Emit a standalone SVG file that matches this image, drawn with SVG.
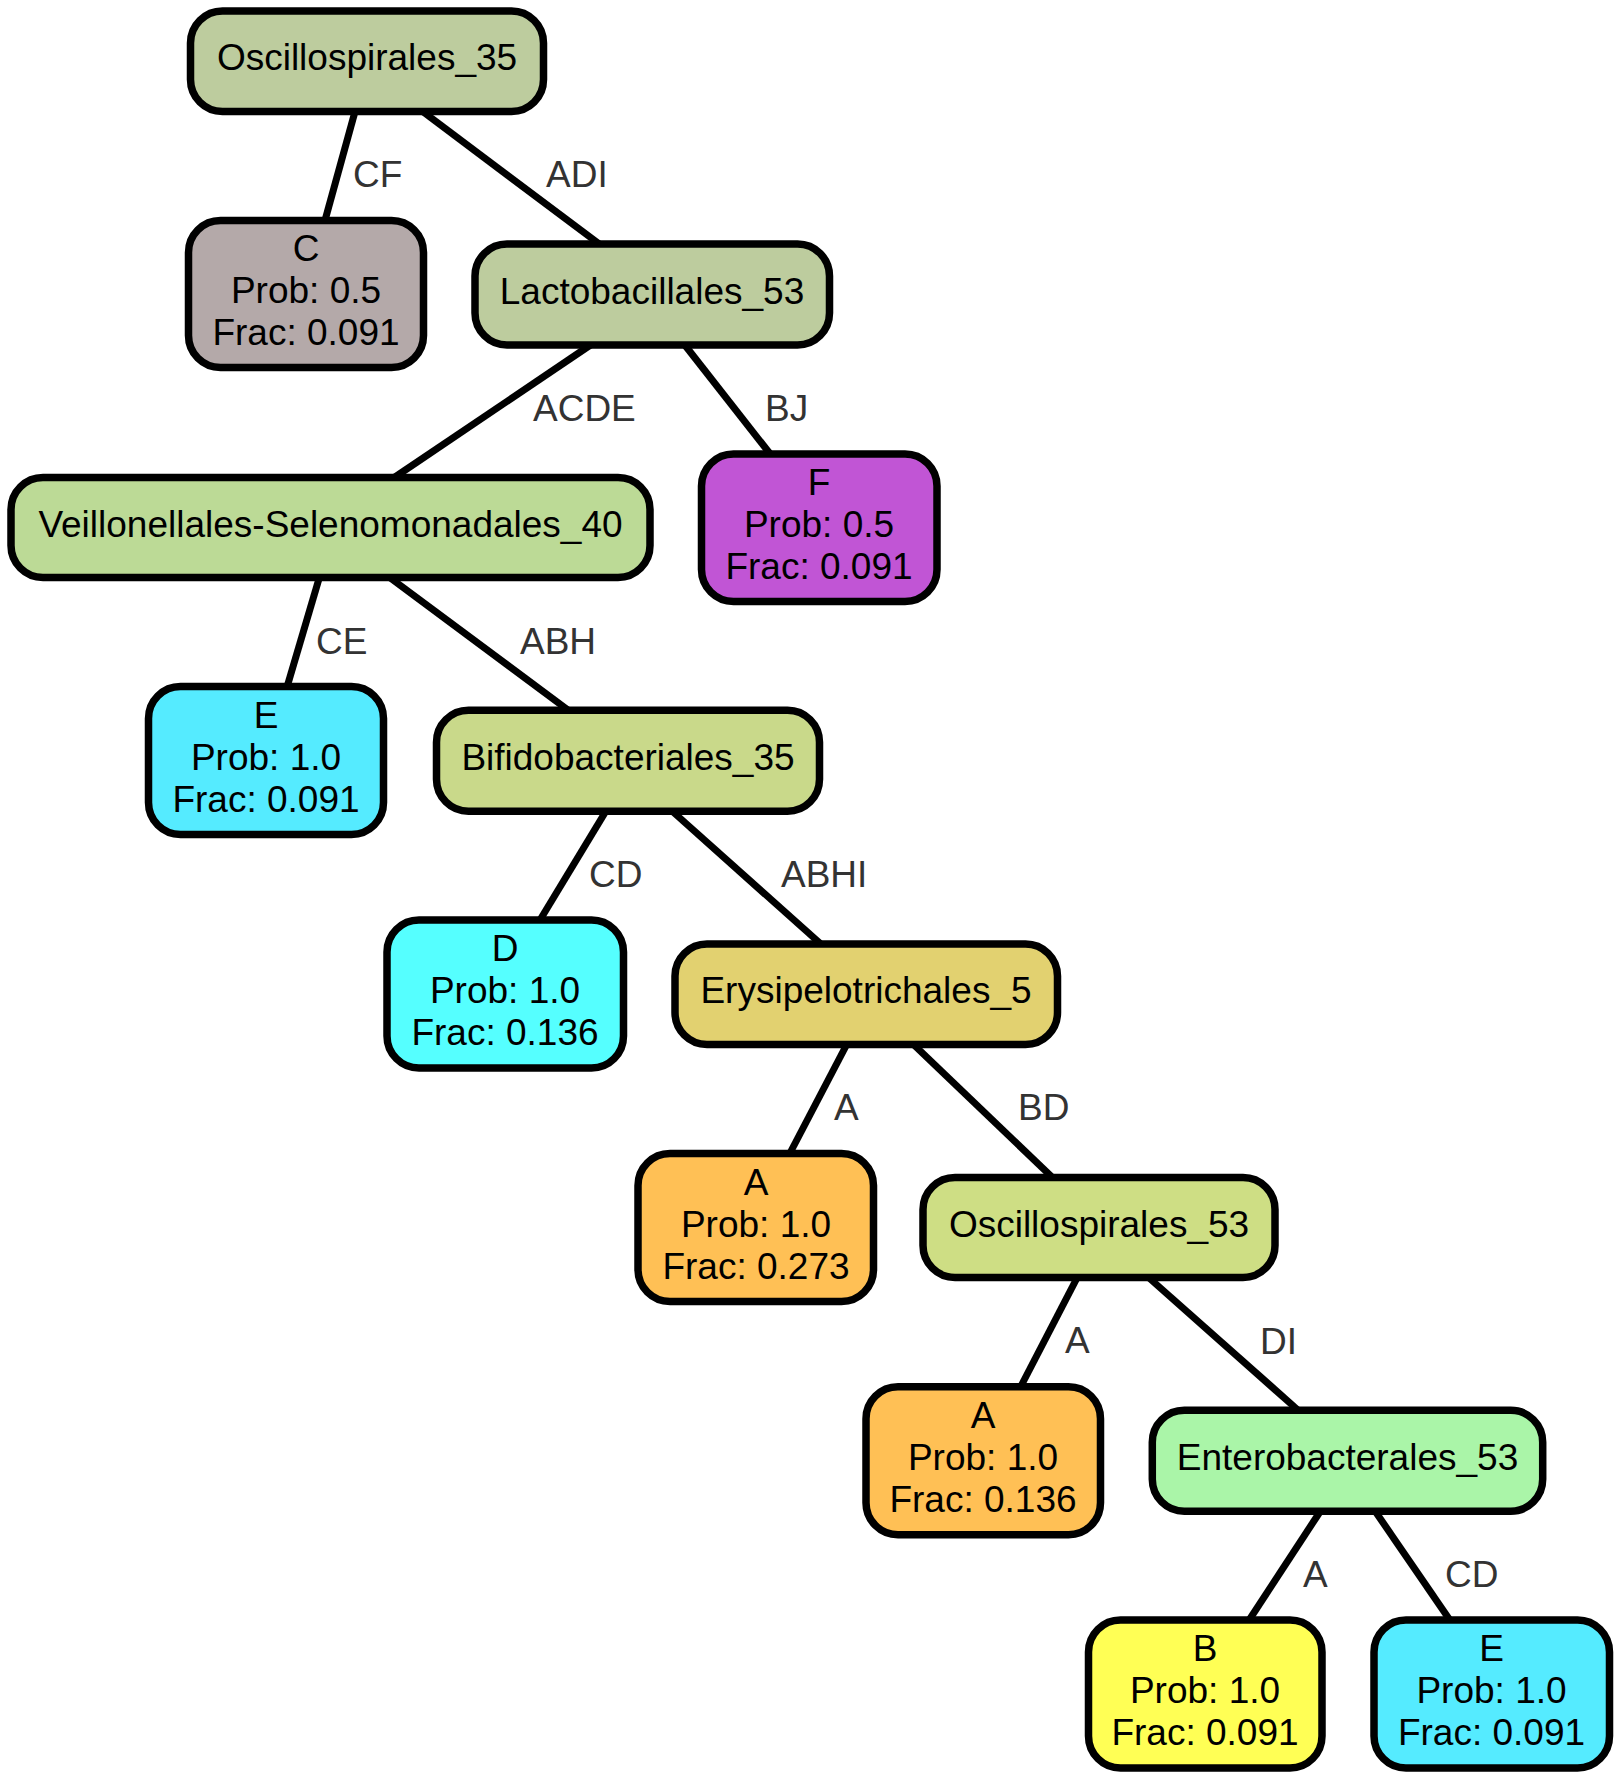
<svg xmlns="http://www.w3.org/2000/svg" width="1621" height="1779" viewBox="0 0 1621 1779">
<style>
.n rect{stroke:#000;stroke-width:7.5}
.n text{font-family:"Liberation Sans",Arial,Helvetica,sans-serif;font-size:37px;fill:#000;text-anchor:middle}
#edges line{stroke:#000;stroke-width:7}
#edges text{font-family:"Liberation Sans",Arial,Helvetica,sans-serif;font-size:37px;fill:#333}
</style>
<rect width="1621" height="1779" fill="#fff"/>
<g id="edges">
<line x1="356" y1="108" x2="324" y2="224"/>
<line x1="422" y1="111" x2="602" y2="246"/>
<line x1="592" y1="344" x2="392" y2="479"/>
<line x1="684" y1="344" x2="771" y2="455"/>
<line x1="319.5" y1="577" x2="287" y2="687"/>
<line x1="389" y1="577" x2="568" y2="710"/>
<line x1="606" y1="811" x2="540" y2="920"/>
<line x1="672" y1="811" x2="822" y2="945"/>
<line x1="847" y1="1044" x2="789.5" y2="1154"/>
<line x1="913" y1="1044" x2="1053" y2="1178"/>
<line x1="1077.5" y1="1277" x2="1020" y2="1388"/>
<line x1="1148" y1="1277" x2="1299" y2="1411"/>
<line x1="1320.5" y1="1511" x2="1248.5" y2="1621"/>
<line x1="1375" y1="1511" x2="1450.5" y2="1621"/>
<text x="353" y="187">CF</text>
<text x="546" y="187">ADI</text>
<text x="533" y="421">ACDE</text>
<text x="765" y="421">BJ</text>
<text x="316" y="654">CE</text>
<text x="520" y="654">ABH</text>
<text x="589" y="887">CD</text>
<text x="781" y="887">ABHI</text>
<text x="834" y="1120">A</text>
<text x="1018" y="1120">BD</text>
<text x="1065" y="1353">A</text>
<text x="1260" y="1354">DI</text>
<text x="1303" y="1587">A</text>
<text x="1445" y="1587">CD</text>
</g>
<g id="oscillospirales_35" class="n">
<rect x="190.5" y="11" width="353" height="100.5" rx="32" fill="#BDCC9E"/>
<text x="367" y="70">Oscillospirales_35</text>
</g>
<g id="leaf_c" class="n">
<rect x="188.5" y="220.5" width="235" height="147" rx="32" fill="#B4A9A9"/>
<text x="306" y="261">C</text>
<text x="306" y="303">Prob: 0.5</text>
<text x="306" y="345">Frac: 0.091</text>
</g>
<g id="lactobacillales_53" class="n">
<rect x="475" y="244" width="354.5" height="101" rx="32" fill="#BDCC9E"/>
<text x="652" y="303.5">Lactobacillales_53</text>
</g>
<g id="veillonellales_selenomonadales_40" class="n">
<rect x="11" y="477.5" width="639" height="100" rx="32" fill="#BCDA96"/>
<text x="330.5" y="537">Veillonellales-Selenomonadales_40</text>
</g>
<g id="leaf_f" class="n">
<rect x="701.5" y="454" width="235.5" height="147.5" rx="32" fill="#C155D5"/>
<text x="819" y="495">F</text>
<text x="819" y="537">Prob: 0.5</text>
<text x="819" y="579">Frac: 0.091</text>
</g>
<g id="leaf_e1" class="n">
<rect x="148.5" y="686.5" width="235" height="148" rx="32" fill="#55EBFF"/>
<text x="266" y="728">E</text>
<text x="266" y="770">Prob: 1.0</text>
<text x="266" y="812">Frac: 0.091</text>
</g>
<g id="bifidobacteriales_35" class="n">
<rect x="436.5" y="710.3" width="383" height="101" rx="32" fill="#C9D98A"/>
<text x="628" y="770">Bifidobacteriales_35</text>
</g>
<g id="leaf_d" class="n">
<rect x="387" y="920" width="236.5" height="148" rx="32" fill="#55FFFF"/>
<text x="505" y="961">D</text>
<text x="505" y="1003">Prob: 1.0</text>
<text x="505" y="1045">Frac: 0.136</text>
</g>
<g id="erysipelotrichales_5" class="n">
<rect x="675" y="944" width="382.5" height="100.5" rx="32" fill="#E2D170"/>
<text x="866" y="1003">Erysipelotrichales_5</text>
</g>
<g id="leaf_a1" class="n">
<rect x="638" y="1153.5" width="235.5" height="148" rx="32" fill="#FFC055"/>
<text x="756" y="1194.5">A</text>
<text x="756" y="1236.5">Prob: 1.0</text>
<text x="756" y="1278.5">Frac: 0.273</text>
</g>
<g id="oscillospirales_53" class="n">
<rect x="923" y="1177.5" width="352" height="100" rx="32" fill="#CEDE84"/>
<text x="1099" y="1236.5">Oscillospirales_53</text>
</g>
<g id="leaf_a2" class="n">
<rect x="866" y="1386.8" width="234.5" height="148" rx="32" fill="#FFC055"/>
<text x="983" y="1428">A</text>
<text x="983" y="1470">Prob: 1.0</text>
<text x="983" y="1512">Frac: 0.136</text>
</g>
<g id="enterobacterales_53" class="n">
<rect x="1152.3" y="1410.2" width="390.4" height="101" rx="32" fill="#AAF5A8"/>
<text x="1347.5" y="1470">Enterobacterales_53</text>
</g>
<g id="leaf_b" class="n">
<rect x="1088.5" y="1620" width="233.5" height="148" rx="32" fill="#FFFF55"/>
<text x="1205" y="1661">B</text>
<text x="1205" y="1703">Prob: 1.0</text>
<text x="1205" y="1745">Frac: 0.091</text>
</g>
<g id="leaf_e2" class="n">
<rect x="1374" y="1620" width="235.5" height="148" rx="32" fill="#55EBFF"/>
<text x="1491.5" y="1661">E</text>
<text x="1491.5" y="1703">Prob: 1.0</text>
<text x="1491.5" y="1745">Frac: 0.091</text>
</g>
</svg>
